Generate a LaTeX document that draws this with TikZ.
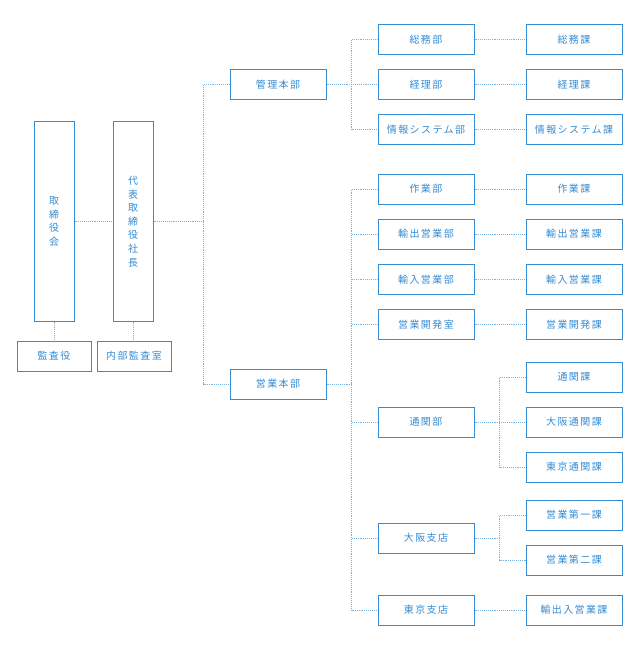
\documentclass[tikz,border=0pt]{standalone}
\usepackage{fontspec}
\newfontfamily\jpfont[LetterSpace=14]{Noto Sans CJK JP}
\usetikzlibrary{positioning}
\definecolor{orgblue}{RGB}{52,140,212}
\definecolor{linkblue}{RGB}{120,178,226}
\tikzset{
  unit/.style={rectangle, draw=orgblue, line width=1pt, fill=white, text=orgblue, font=\jpfont\fontsize{10}{13.6}\selectfont, inner sep=0pt, minimum width=96pt, minimum height=30pt, align=center},
  tall/.style={unit, minimum width=40pt, minimum height=199pt},
  small/.style={unit, minimum width=74pt},
  link/.style={draw=linkblue, densely dotted, line width=0.9pt}
}

\begin{document}
\begin{tikzpicture}[x=1pt, y=-1pt]
\useasboundingbox (0,0) rectangle (640,650);
% top management
\node[tall] (board) at (54,221.5) {取\\締\\役\\会};
\node[tall] (ceo) at (133,221.5) {代\\表\\取\\締\\役\\社\\長};
\node[small] (kansa) at (54,356) {監査役};
\node[small] (naibu) at (134,356) {内部監査室};
% divisions
\node[unit] (kanri) at (278,84.5) {管理本部};
\node[unit] (eigyo) at (278,384) {営業本部};
% departments
\node[unit] (somu) at (426,39.5) {総務部};
\node[unit] (keiri) at (426,84.5) {経理部};
\node[unit] (joho) at (426,129.5) {情報システム部};
\node[unit] (sagyo) at (426,189) {作業部};
\node[unit] (yushutsu) at (426,234) {輸出営業部};
\node[unit] (yunyu) at (426,279.5) {輸入営業部};
\node[unit] (kaihatsu) at (426,324.5) {営業開発室};
\node[unit] (tsukan) at (426,422) {通関部};
\node[unit] (osaka) at (426,538) {大阪支店};
\node[unit] (tokyo) at (426,610) {東京支店};
% sections
\node[unit] (somuka) at (574,39.5) {総務課};
\node[unit] (keirika) at (574,84.5) {経理課};
\node[unit] (johoka) at (574,129.5) {情報システム課};
\node[unit] (sagyoka) at (574,189) {作業課};
\node[unit] (yushutsuka) at (574,234) {輸出営業課};
\node[unit] (yunyuka) at (574,279.5) {輸入営業課};
\node[unit] (kaihatsuka) at (574,324.5) {営業開発課};
\node[unit] (tsukanka) at (574,377) {通関課};
\node[unit] (osakatsukan) at (574,422) {大阪通関課};
\node[unit] (tokyotsukan) at (574,467) {東京通関課};
\node[unit] (eigyo1) at (574,515) {営業第一課};
\node[unit] (eigyo2) at (574,560) {営業第二課};
\node[unit] (yushutsunyu) at (574,610) {輸出入営業課};

% connectors
\draw[link] (board) -- (ceo);
\draw[link] (board) -- (kansa);
\draw[link] (ceo.south) -- (ceo.south |- naibu.north);
\draw[link] (ceo.east) -- ++(51,0);
\draw[link] (kanri.west) -- ++(-26,0) |- (eigyo.west);
\draw[link] (somu.west) -- ++(-26,0) |- (joho.west);
\draw[link] (kanri) -- (keiri);
\draw[link] (sagyo.west) -- ++(-26,0) |- (tokyo.west);
\draw[link] (eigyo.east) -- ++(26,0);
\foreach \d in {yushutsu,yunyu,kaihatsu,tsukan,osaka}
  \draw[link] (\d.west) -- ++(-26,0);
\foreach \d/\s in {somu/somuka,keiri/keirika,joho/johoka,sagyo/sagyoka,yushutsu/yushutsuka,yunyu/yunyuka,kaihatsu/kaihatsuka,tsukan/osakatsukan,tokyo/yushutsunyu}
  \draw[link] (\d) -- (\s);
\draw[link] (tsukanka.west) -- ++(-26,0) |- (tokyotsukan.west);
\draw[link] (eigyo1.west) -- ++(-26,0) |- (eigyo2.west);
\draw[link] (osaka.east) -- ++(26,0);
\end{tikzpicture}
\end{document}
